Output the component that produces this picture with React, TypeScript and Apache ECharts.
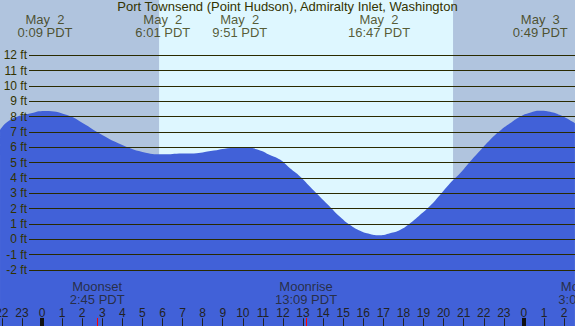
import React, { useEffect, useRef } from "react";
import * as echarts from "echarts";

// Tide curve (hours since May 2 00:00 PDT, feet)
const curveHours = [-2.09, -1.59, -0.6, 0.15, 1.25, 2.0, 3.0, 4.0, 5.0, 6.0, 7.0, 7.4, 8.4, 9.4, 10.1, 10.86, 11.35, 11.85, 12.35, 12.85, 13.35, 13.84, 14.34, 14.84, 15.34, 15.84, 16.33, 16.83, 17.33, 17.83, 18.33, 18.82, 19.32, 19.82, 20.32, 20.82, 21.31, 21.81, 22.31, 22.81, 23.31, 23.8, 24.3, 24.8, 25.3, 25.8, 26.54];
const curveFeet = [7.13, 7.78, 8.2, 8.37, 8.1, 7.6, 6.8, 6.15, 5.7, 5.54, 5.6, 5.6, 5.76, 5.96, 6.0, 5.8, 5.5, 5.2, 4.63, 4.1, 3.43, 2.78, 2.13, 1.47, 0.93, 0.56, 0.35, 0.26, 0.39, 0.6, 1.04, 1.58, 2.17, 2.89, 3.65, 4.3, 5.06, 5.78, 6.48, 7.08, 7.57, 8.0, 8.26, 8.39, 8.32, 8.1, 7.57];

// High / low tide annotations
const tideHours = [0.15, 6.017, 9.85, 16.783, 24.817];
const tideDates = ["May  2", "May  2", "May  2", "May  2", "May  3"];
const tideTimes = ["0:09 PDT", "6:01 PDT", "9:51 PDT", "16:47 PDT", "0:49 PDT"];

// Moon events
const moonHours = [2.75, 13.15, 27.08];
const moonEvents = ["Moonset", "Moonrise", "Moonset"];
const moonTimes = ["2:45 PDT", "13:09 PDT", "3:05 PDT"];

// Daylight window
const sunriseHour = 5.83;
const sunsetHour = 20.47;
const midnightHours = [0, 24];

const title = "Port Townsend (Point Hudson), Admiralty Inlet, Washington";

// axis ranges (hour axis -3..27, feet axis -6..16 for the main plot; -2..12 for the ft gridlines)
const X_MIN = -3;
const X_MAX = 27;
const Y_MIN = -6;
const Y_MAX = 16;
const FT_MIN = -2;
const FT_MAX = 12;

const TEXT = "#333300";
const FONT = "Liberation Sans";

export default function App() {
  const ref = useRef<HTMLDivElement>(null);

  useEffect(() => {
    if (!ref.current) return;
    const chart = echarts.init(ref.current, null, { renderer: "svg" });

    const tickTop = -5.13;

    const option: any = {
      animation: false,
      backgroundColor: "#B0C4DE",
      textStyle: { fontFamily: FONT },
      title: {
        text: title,
        left: "center",
        top: 0,
        padding: 0,
        textStyle: { fontSize: 13, fontWeight: "normal", color: TEXT, fontFamily: FONT },
      },
      grid: [
        { left: -18.24, right: -9.16, top: -6.0, bottom: -5.28, containLabel: false, outerBoundsMode: "none" },
        { left: 29, right: 0, top: 55.3, bottom: 56, containLabel: false, outerBoundsMode: "none" },
      ],
      xAxis: [
        {
          gridIndex: 0,
          type: "value",
          position: "bottom",
          min: X_MIN,
          max: X_MAX,
          interval: 1,
          z: 8,
          axisLine: { show: false, onZero: false },
          splitLine: { show: false },
          axisTick: {
            show: true,
            inside: true,
            length: 13,
            lineStyle: { color: "#222222", width: 1 },
          },
          axisLabel: {
            show: true,
            inside: true,
            margin: 12,
            showMinLabel: true,
            showMaxLabel: true,
            hideOverlap: false,
            color: "#222222",
            fontSize: 12,
            fontFamily: FONT,
            formatter: (v: number) => String(((Math.round(v) % 24) + 24) % 24),
          },
        },
        {
          gridIndex: 1,
          type: "value",
          min: X_MIN,
          max: X_MAX,
          show: false,
          axisLine: { onZero: false },
        },
      ],
      yAxis: [
        {
          gridIndex: 0,
          type: "value",
          min: Y_MIN,
          max: Y_MAX,
          show: false,
          axisLine: { onZero: false },
        },
        {
          gridIndex: 1,
          type: "value",
          min: FT_MIN,
          max: FT_MAX,
          interval: 1,
          z: 5,
          axisLine: { show: false, onZero: false },
          axisTick: { show: false },
          splitLine: { show: true, lineStyle: { color: "#2a2a00", width: 1 } },
          axisLabel: {
            show: true,
            margin: 2,
            color: TEXT,
            fontSize: 12,
            fontFamily: FONT,
            formatter: (v: number) => `${v} ft`,
          },
        },
      ],
      series: [
        {
          name: "day",
          type: "line",
          xAxisIndex: 0,
          yAxisIndex: 0,
          z: 1,
          symbol: "none",
          lineStyle: { width: 0 },
          areaStyle: { color: "#DEF7FF", opacity: 1, origin: "start" },
          data: [
            [sunriseHour, Y_MAX],
            [sunsetHour, Y_MAX],
          ],
          silent: true,
        },
        {
          name: "tide",
          type: "line",
          xAxisIndex: 0,
          yAxisIndex: 0,
          z: 2,
          smooth: true,
          symbol: "none",
          lineStyle: { width: 0 },
          areaStyle: { color: "#4161D8", opacity: 1, origin: "start" },
          data: curveHours.map((h, i) => [h, curveFeet[i]]),
        },
        {
          name: "ticks",
          type: "line",
          xAxisIndex: 0,
          yAxisIndex: 0,
          z: 9,
          symbol: "none",
          lineStyle: { width: 0 },
          data: [],
          markLine: {
            silent: true,
            symbol: "none",
            label: { show: false },
            z: 10,
            data: [
              ...midnightHours.map((h) => [
                { coord: [h, tickTop], lineStyle: { color: "#111111", width: 4, type: "solid" } },
                { coord: [h, Y_MIN] },
              ]),
              ...moonHours.map((h) => [
                { coord: [h, tickTop], lineStyle: { color: "#FF0000", width: 1, type: "solid" } },
                { coord: [h, Y_MIN] },
              ]),
            ],
          },
        },
        {
          name: "tideLabels",
          type: "scatter",
          xAxisIndex: 0,
          yAxisIndex: 0,
          z: 6,
          clip: false,
          symbolSize: 1,
          itemStyle: { color: "transparent" },
          label: {
            show: true,
            position: "inside",
            color: TEXT,
            fontSize: 13,
            lineHeight: 13,
            fontFamily: FONT,
            formatter: (p: any) => `${tideDates[p.dataIndex]}\n${tideTimes[p.dataIndex]}`,
          },
          data: tideHours.map((h) => [h, 13.91]),
          silent: true,
        },
        {
          name: "moonLabels",
          type: "scatter",
          xAxisIndex: 0,
          yAxisIndex: 0,
          z: 6,
          clip: false,
          symbolSize: 1,
          itemStyle: { color: "transparent" },
          label: {
            show: true,
            position: "inside",
            color: "#222222",
            fontSize: 13,
            lineHeight: 13,
            fontFamily: FONT,
            formatter: (p: any) => `${moonEvents[p.dataIndex]}\n${moonTimes[p.dataIndex]}`,
          },
          data: moonHours.map((h) => [h, -3.5]),
          silent: true,
        },
      ],
    };

    chart.setOption(option);
    return () => chart.dispose();
  }, []);

  return (
    <div
      ref={ref}
      style={{ position: "fixed", left: 0, top: 0, width: 575, height: 326 }}
    />
  );
}
